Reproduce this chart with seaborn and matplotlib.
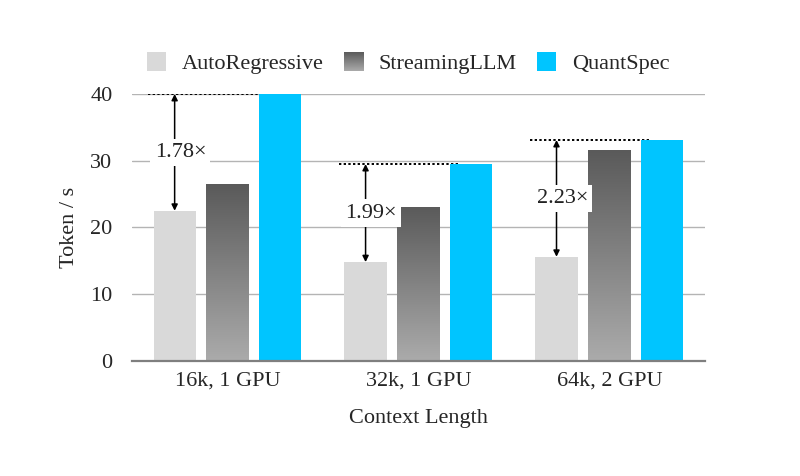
import numpy as np
import pandas as pd
import matplotlib
matplotlib.use("Agg")
import matplotlib.pyplot as plt
import seaborn as sns

contexts = ["16k, 1 GPU", "32k, 1 GPU", "64k, 2 GPU"]
methods = ["AutoRegressive", "StreamingLLM", "QuantSpec"]
autoregressive = [22.5, 14.8, 15.6]
streamingllm = [26.5, 23.1, 31.6]
quantspec = [40.0, 29.5, 33.1]
speedups = ["1.78\u00d7", "1.99\u00d7", "2.23\u00d7"]

df = pd.DataFrame({
    "context": contexts * 3,
    "method": [m for m in methods for _ in contexts],
    "tps": autoregressive + streamingllm + quantspec,
})

sns.set_theme(style="white")
plt.rcParams["font.family"] = ["Liberation Serif", "DejaVu Serif"]

colors = {"AutoRegressive": "#d9d9d9", "StreamingLLM": "#7a7a7a", "QuantSpec": "#00c5ff"}
grad = np.linspace(0, 1, 256).reshape(-1, 1)
gray_cmap = matplotlib.colors.LinearSegmentedColormap.from_list("g", ["#5a5a5a", "#ababab"])

fig = plt.figure(figsize=(8, 4.76), dpi=100)
ax = fig.add_axes([0.165, 0.242, 0.716, 0.5605])

sns.barplot(data=df, x="context", y="tps", hue="method", order=contexts,
            hue_order=methods, palette=colors, width=0.83, gap=0.2, saturation=1,
            errorbar=None, ax=ax, zorder=3, linewidth=0)

ax.set_xlim(-0.5, 2.5)
ax.set_ylim(0, 40)
ax.set_yticks([0, 10, 20, 30, 40])
ax.yaxis.grid(True, color="#b4b4b4", lw=1)
ax.set_axisbelow(True)
for s in ["top", "right", "left"]:
    ax.spines[s].set_visible(False)
ax.spines["bottom"].set_color("#7f7f7f")
ax.spines["bottom"].set_linewidth(1.6)
ax.spines["bottom"].set_zorder(5)
ax.tick_params(axis="both", length=0, labelsize=16, pad=8)
ax.tick_params(axis="y", pad=14)
ax.set_xlabel("Context Length", fontsize=16, labelpad=13)
ax.set_ylabel("Token / s", fontsize=16, labelpad=8)

# bars per method, from the hue containers
bars = {m: sorted(list(c), key=lambda p: p.get_x()) for m, c in zip(methods, ax.containers)}

# gradient fill for StreamingLLM bars
for p in bars["StreamingLLM"]:
    x0, w, h = p.get_x(), p.get_width(), p.get_height()
    im = ax.imshow(grad, cmap=gray_cmap, aspect="auto",
                   extent=[x0, x0 + w, 0, h], zorder=3.5)
    im.set_clip_path(p)
    p.set_facecolor("none")
ax.set_xlim(-0.5, 2.5)
ax.set_ylim(0, 40)

# speedup annotations
for i, label in enumerate(speedups):
    ar = bars["AutoRegressive"][i]
    qs = bars["QuantSpec"][i]
    top = qs.get_height()
    low = ar.get_height()
    xc = ar.get_x() + ar.get_width() / 2
    ax.plot([ar.get_x() - 0.03, qs.get_x() + 0.05], [top, top], ls=(0, (1.2, 1.2)),
            color="black", lw=1.4, zorder=2.5)
    ax.annotate("", xy=(xc, top), xytext=(xc, low),
                arrowprops=dict(arrowstyle="<|-|>", color="black", lw=1.1,
                                mutation_scale=9, shrinkA=0, shrinkB=0), zorder=4)
    ax.text(xc + 0.03, (top + low) / 2, label, ha="center", va="center", fontsize=16,
            color="#222222", zorder=4.5,
            bbox=dict(facecolor="white", edgecolor="none", pad=3))

# legend
leg = ax.legend(loc="center", bbox_to_anchor=(0.482, 1.115), ncol=3, frameon=False,
                fontsize=16, handlelength=0.88, handleheight=0.88, handletextpad=0.7,
                columnspacing=0.9, borderaxespad=0)
handles = leg.legend_handles
for h, m in zip(handles, methods):
    h.set_facecolor(colors[m])
    h.set_edgecolor("none")

fig.canvas.draw()
sl_handle = handles[1]
bb = sl_handle.get_window_extent().transformed(fig.transFigure.inverted())
sl_handle.set_facecolor("none")
lax = fig.add_axes([bb.x0, bb.y0, bb.width, bb.height])
lax.imshow(grad, cmap=gray_cmap, aspect="auto")
lax.axis("off")

fig.savefig("out.png", dpi=100)
